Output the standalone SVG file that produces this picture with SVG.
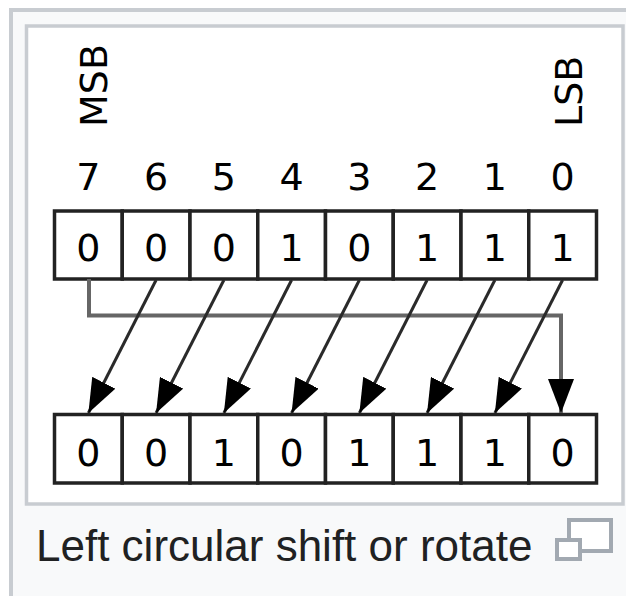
<svg xmlns="http://www.w3.org/2000/svg" width="626" height="596" viewBox="0 0 626 596">
  <style>
    .frame { fill: #f8f9fa; stroke: #c8ccd1; stroke-width: 4; }
    .plate { fill: #ffffff; stroke: #c8ccd1; stroke-width: 3.5; }
    .cell rect { fill: #ffffff; stroke: #222222; stroke-width: 3.5; }
    .mono { font-family: "DejaVu Sans", "Liberation Sans", sans-serif; font-size: 38px; fill: #000000; }
    .mid { text-anchor: middle; }
    .shift { fill: none; stroke: #2a2a2a; stroke-width: 3; }
    .wrap { fill: none; stroke: #666666; stroke-width: 4; }
    .caption { font-family: "Liberation Sans", Arial, sans-serif; font-size: 44px; fill: #202122; }
    .icon { fill: #ffffff; stroke: #a2a9b1; stroke-width: 4; }
  </style>
  <defs>
    <marker id="head" viewBox="0 0 34 26" refX="34" refY="13" markerWidth="34" markerHeight="26" markerUnits="userSpaceOnUse" orient="auto">
      <path d="M0,0 L34,13 L0,26 z" fill="#000000"/>
    </marker>
  </defs>

  <!-- thumbnail frame and image plate -->
  <rect class="frame" x="11" y="10" width="640" height="600"/>
  <rect class="plate" x="26.5" y="26" width="596.5" height="478"/>

  <!-- end labels -->
  <g id="msb-label">
    <text class="mono" transform="translate(107,127) rotate(-90)">MSB</text>
  </g>
  <g id="lsb-label">
    <text class="mono" transform="translate(582,127) rotate(-90)">LSB</text>
  </g>

  <!-- bit positions -->
  <g id="bit-index" class="mono mid">
    <text x="88.4" y="190">7</text>
    <text x="156.1" y="190">6</text>
    <text x="223.9" y="190">5</text>
    <text x="291.6" y="190">4</text>
    <text x="359.4" y="190">3</text>
    <text x="427.1" y="190">2</text>
    <text x="494.9" y="190">1</text>
    <text x="562.6" y="190">0</text>
  </g>

  <!-- register before rotation -->
  <g id="before">
    <g id="in-b7" class="cell"><rect x="54.5" y="211" width="67.75" height="68"/><text class="mono mid" x="88.4" y="261">0</text></g>
    <g id="in-b6" class="cell"><rect x="122.25" y="211" width="67.75" height="68"/><text class="mono mid" x="156.1" y="261">0</text></g>
    <g id="in-b5" class="cell"><rect x="190" y="211" width="67.75" height="68"/><text class="mono mid" x="223.9" y="261">0</text></g>
    <g id="in-b4" class="cell"><rect x="257.75" y="211" width="67.75" height="68"/><text class="mono mid" x="291.6" y="261">1</text></g>
    <g id="in-b3" class="cell"><rect x="325.5" y="211" width="67.75" height="68"/><text class="mono mid" x="359.4" y="261">0</text></g>
    <g id="in-b2" class="cell"><rect x="393.25" y="211" width="67.75" height="68"/><text class="mono mid" x="427.1" y="261">1</text></g>
    <g id="in-b1" class="cell"><rect x="461" y="211" width="67.75" height="68"/><text class="mono mid" x="494.9" y="261">1</text></g>
    <g id="in-b0" class="cell"><rect x="528.75" y="211" width="67.75" height="68"/><text class="mono mid" x="562.6" y="261">1</text></g>
  </g>

  <!-- register after rotation -->
  <g id="after">
    <g id="out-b7" class="cell"><rect x="54.5" y="414.5" width="67.75" height="68.5"/><text class="mono mid" x="88.4" y="466">0</text></g>
    <g id="out-b6" class="cell"><rect x="122.25" y="414.5" width="67.75" height="68.5"/><text class="mono mid" x="156.1" y="466">0</text></g>
    <g id="out-b5" class="cell"><rect x="190" y="414.5" width="67.75" height="68.5"/><text class="mono mid" x="223.9" y="466">1</text></g>
    <g id="out-b4" class="cell"><rect x="257.75" y="414.5" width="67.75" height="68.5"/><text class="mono mid" x="291.6" y="466">0</text></g>
    <g id="out-b3" class="cell"><rect x="325.5" y="414.5" width="67.75" height="68.5"/><text class="mono mid" x="359.4" y="466">1</text></g>
    <g id="out-b2" class="cell"><rect x="393.25" y="414.5" width="67.75" height="68.5"/><text class="mono mid" x="427.1" y="466">1</text></g>
    <g id="out-b1" class="cell"><rect x="461" y="414.5" width="67.75" height="68.5"/><text class="mono mid" x="494.9" y="466">1</text></g>
    <g id="out-b0" class="cell"><rect x="528.75" y="414.5" width="67.75" height="68.5"/><text class="mono mid" x="562.6" y="466">0</text></g>
  </g>

  <!-- connectors: MSB wraps round to LSB, every other bit moves one place left -->
  <g id="connectors">
    <path class="wrap" d="M89,279 V315.5 H561 V413" marker-end="url(#head)"/>
    <line class="shift" x1="156.1" y1="280" x2="88.4" y2="413" marker-end="url(#head)"/>
    <line class="shift" x1="223.9" y1="280" x2="156.1" y2="413" marker-end="url(#head)"/>
    <line class="shift" x1="291.6" y1="280" x2="223.9" y2="413" marker-end="url(#head)"/>
    <line class="shift" x1="359.4" y1="280" x2="291.6" y2="413" marker-end="url(#head)"/>
    <line class="shift" x1="427.1" y1="280" x2="359.4" y2="413" marker-end="url(#head)"/>
    <line class="shift" x1="494.9" y1="280" x2="427.1" y2="413" marker-end="url(#head)"/>
    <line class="shift" x1="562.6" y1="280" x2="494.9" y2="413" marker-end="url(#head)"/>
  </g>

  <!-- caption with enlarge icon -->
  <g id="caption">
    <text class="caption" x="36" y="561">Left circular shift or rotate</text>
    <g id="enlarge-icon">
      <rect class="icon" x="569" y="520" width="42" height="31"/>
      <rect class="icon" x="557" y="540" width="23" height="19"/>
    </g>
  </g>
</svg>
